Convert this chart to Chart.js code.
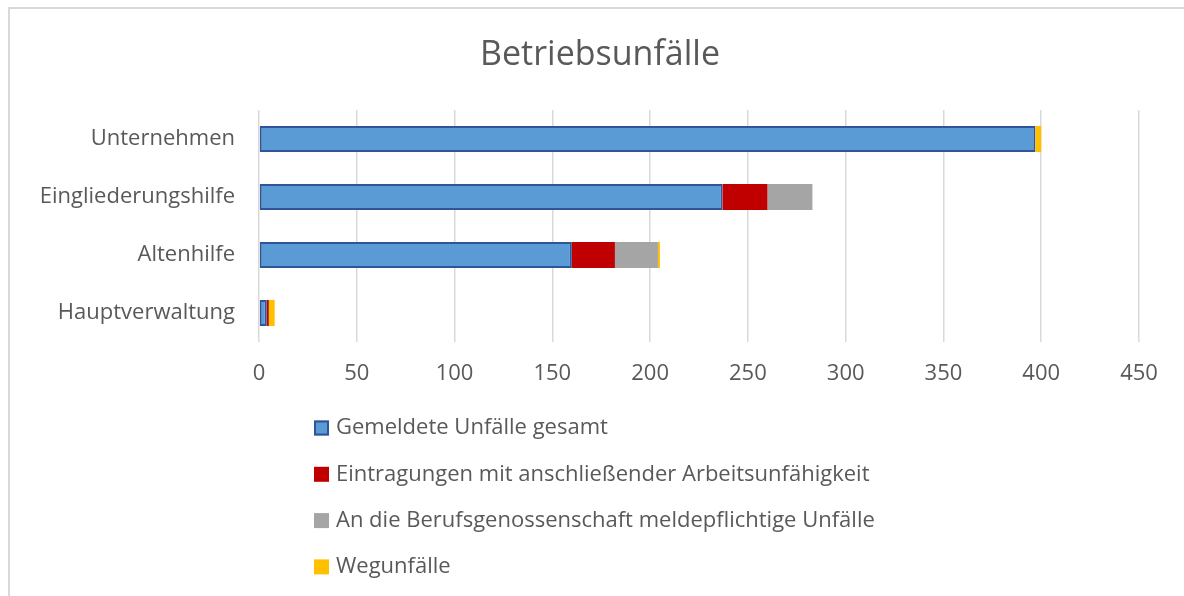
<!DOCTYPE html>
<html>
<head>
<meta charset="utf-8">
<script src="https://cdn.jsdelivr.net/npm/chart.js@4/dist/chart.umd.min.js"></script>
<style>
  html, body { margin: 0; padding: 0; background: #ffffff; }
  #wrap { position: relative; width: 1184px; height: 596px; }
  canvas { display: block; }
</style>
</head>
<body>
<div id="wrap"><canvas id="c" width="1184" height="596"></canvas></div>
<script>
const categories = ["Unternehmen", "Eingliederungshilfe", "Altenhilfe", "Hauptverwaltung"];
const seriesNames = [
  "Gemeldete Unfälle gesamt",
  "Eintragungen mit anschließender Arbeitsunfähigkeit",
  "An die Berufsgenossenschaft meldepflichtige Unfälle",
  "Wegunfälle"
];
const gemeldet = [397, 237, 160, 4];
const eintragungen = [0, 23, 22, 1];
const meldepflichtig = [0, 23, 22, 0];
const wegunfaelle = [3, 0, 1, 3];
const xTicks = [0, 50, 100, 150, 200, 250, 300, 350, 400, 450];
const chartTitle = "Betriebsunfälle";

const FONT = "'Open Sans', 'DejaVu Sans', sans-serif";
const TEXT = "#595959";

const framePlugin = {
  id: 'frame',
  beforeDraw(chart) {
    const ctx = chart.ctx;
    ctx.save();
    ctx.fillStyle = '#ffffff';
    ctx.fillRect(0, 0, chart.width, chart.height);
    ctx.strokeStyle = '#d9d9d9';
    ctx.lineWidth = 2;
    ctx.beginPath();
    ctx.moveTo(9, chart.height);
    ctx.lineTo(9, 8);
    ctx.lineTo(chart.width, 8);
    ctx.stroke();
    // title
    ctx.font = "34px " + FONT;
    ctx.fillStyle = TEXT;
    ctx.textAlign = 'center';
    ctx.textBaseline = 'middle';
    ctx.fillText(chartTitle, 600, 55);
    ctx.restore();
  }
};

const legendPlugin = {
  id: 'vlegend',
  afterDraw(chart) {
    const ctx = chart.ctx;
    ctx.save();
    ctx.font = "22px " + FONT;
    ctx.textBaseline = 'middle';
    ctx.textAlign = 'left';
    chart.data.datasets.forEach((ds, i) => {
      const y = 428 + i * 46.3;
      const bx = 314, size = 15;
      ctx.fillStyle = ds.backgroundColor;
      ctx.fillRect(bx, y - size / 2, size, size);
      if (ds.borderWidth) {
        ctx.strokeStyle = ds.borderColor;
        ctx.lineWidth = 2;
        ctx.strokeRect(bx + 1, y - size / 2 + 1, size - 2, size - 2);
      }
      ctx.fillStyle = TEXT;
      ctx.fillText(ds.label, 336, y);
    });
    ctx.restore();
  }
};

new Chart(document.getElementById('c'), {
  type: 'bar',
  data: {
    labels: categories,
    datasets: [
      { label: seriesNames[0], data: gemeldet, backgroundColor: '#5B9BD5', borderColor: '#2F5597', borderWidth: 2, borderSkipped: false },
      { label: seriesNames[1], data: eintragungen, backgroundColor: '#C00000', borderWidth: 0 },
      { label: seriesNames[2], data: meldepflichtig, backgroundColor: '#A5A5A5', borderWidth: 0 },
      { label: seriesNames[3], data: wegunfaelle, backgroundColor: '#FFC000', borderWidth: 0 }
    ]
  },
  options: {
    indexAxis: 'y',
    responsive: false,
    animation: false,
    devicePixelRatio: 1,
    layout: { padding: { left: 0, right: 45, top: 110, bottom: 0 } },
    datasets: { bar: { barPercentage: 0.45, categoryPercentage: 1 } },
    plugins: {
      legend: { display: false },
      tooltip: { enabled: false },
      title: { display: false }
    },
    scales: {
      x: {
        stacked: true,
        min: 0,
        max: 450,
        afterBuildTicks(scale) { scale.ticks = xTicks.map(v => ({ value: v })); },
        afterFit(scale) { scale.height = 596 - 342; },
        grid: { color: '#d9d9d9', lineWidth: 1.5, drawTicks: false },
        border: { display: false },
        ticks: { color: TEXT, font: { family: FONT, size: 22 }, padding: 19, maxRotation: 0 }
      },
      y: {
        stacked: true,
        afterFit(scale) { scale.width = 259; },
        grid: { display: false, drawTicks: false },
        border: { display: false },
        ticks: { color: TEXT, font: { family: FONT, size: 22 }, padding: 24 }
      }
    }
  },
  plugins: [framePlugin, legendPlugin]
});
</script>
</body>
</html>
